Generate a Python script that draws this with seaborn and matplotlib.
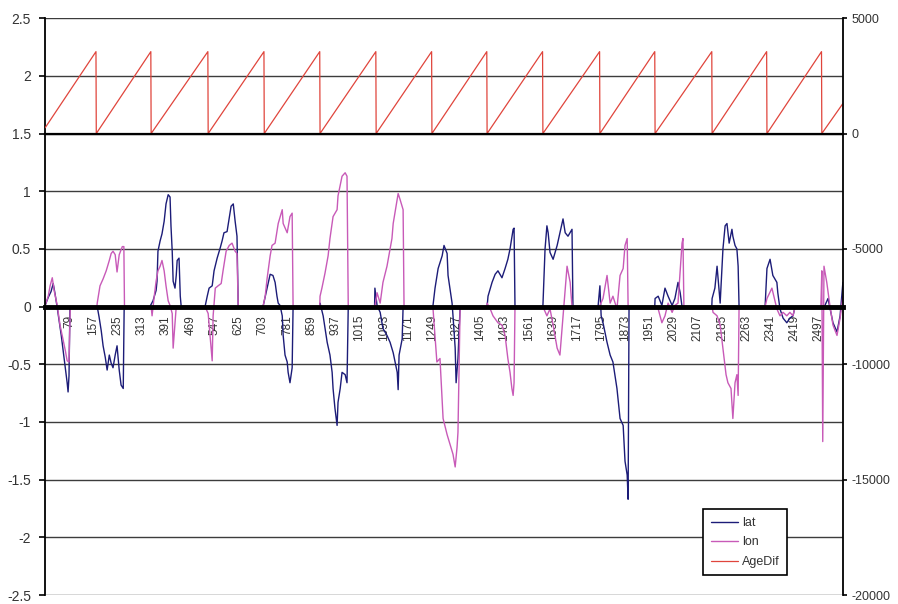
import matplotlib
matplotlib.use("Agg")
import matplotlib.pyplot as plt
import seaborn as sns

# --- data (index = sample number) ---
lat_idx = [1, 11, 20, 27, 33, 40, 46, 53, 59, 66, 69, 72, 75, 78, 81,
           169, 175, 182, 188, 195, 201, 208, 214, 220, 227, 233, 240, 246, 253, 256,
           339, 349, 359, 362, 365, 372, 378, 385, 391, 398, 404, 407, 411, 414, 420, 424, 427, 433, 437, 440,
           517, 524, 530, 540, 546, 556, 566, 572, 578, 588, 595, 601, 608, 614, 620, 624,
           704, 717, 727, 736, 743, 749, 753, 759, 766, 769, 775, 782, 785, 791, 798, 801,
           887, 888, 898, 911, 920, 927, 930, 936, 943, 946, 953, 959, 969, 975, 979,
           1064, 1065, 1072, 1082, 1091, 1104, 1114, 1124, 1130, 1137, 1140, 1143, 1153, 1156,
           1252, 1259, 1269, 1282, 1288, 1298, 1301, 1314, 1317, 1324, 1327, 1333, 1340,
           1427, 1430, 1443, 1453, 1462, 1475, 1485, 1494, 1501, 1511, 1514, 1517,
           1607, 1614, 1620, 1624, 1630, 1640, 1653, 1662, 1672, 1679, 1688, 1701, 1704,
           1785, 1791, 1795, 1801, 1814, 1824, 1833, 1846, 1856, 1866, 1872, 1879, 1882, 1885,
           1968, 1969, 1979, 1991, 2001, 2011, 2024, 2033, 2043, 2050, 2056,
           2152, 2153, 2162, 2169, 2179, 2188, 2195, 2201, 2208, 2217, 2220, 2227, 2233, 2237, 2240,
           2324, 2330, 2340, 2349, 2362, 2365, 2372, 2382, 2394, 2404, 2414, 2421,
           2504, 2517, 2527, 2543, 2556, 2566, 2575]
lat_val = [0.01, 0.08, 0.13, 0.2, 0.11, -0.01, -0.12, -0.25, -0.38, -0.53, -0.6, -0.66, -0.74, -0.6, 0.0,
           0.0, -0.09, -0.21, -0.34, -0.44, -0.55, -0.42, -0.49, -0.53, -0.42, -0.34, -0.55, -0.68, -0.71, 0.0,
           0.0, 0.05, 0.14, 0.22, 0.48, 0.57, 0.63, 0.74, 0.89, 0.97, 0.95, 0.7, 0.48, 0.22, 0.16, 0.27, 0.4, 0.42, 0.09, 0.0,
           0.0, 0.09, 0.16, 0.18, 0.31, 0.42, 0.51, 0.57, 0.64, 0.65, 0.77, 0.87, 0.89, 0.74, 0.61, 0.0,
           0.0, 0.16, 0.28, 0.27, 0.21, 0.09, 0.03, 0.01, -0.08, -0.25, -0.42, -0.48, -0.57, -0.66, -0.53, 0.0,
           0.0, 0.03, -0.08, -0.31, -0.42, -0.57, -0.71, -0.88, -1.03, -0.83, -0.71, -0.57, -0.59, -0.66, 0.0,
           0.0, 0.16, 0.01, -0.05, -0.19, -0.25, -0.31, -0.4, -0.48, -0.57, -0.72, -0.42, -0.28, 0.0,
           0.0, 0.16, 0.33, 0.44, 0.53, 0.46, 0.27, 0.03, -0.08, -0.36, -0.66, -0.45, 0.0,
           0.0, 0.09, 0.21, 0.28, 0.31, 0.25, 0.33, 0.41, 0.5, 0.67, 0.68, 0.0,
           0.0, 0.5, 0.7, 0.64, 0.47, 0.41, 0.53, 0.64, 0.76, 0.64, 0.61, 0.67, 0.0,
           0.0, 0.18, -0.08, -0.14, -0.31, -0.42, -0.48, -0.71, -0.97, -1.03, -1.34, -1.46, -1.67, 0.0,
           0.0, 0.07, 0.09, 0.01, 0.16, 0.09, 0.01, 0.07, 0.21, 0.12, 0.0,
           0.0, 0.07, 0.16, 0.35, 0.03, 0.5, 0.7, 0.72, 0.55, 0.67, 0.61, 0.53, 0.5, 0.35, 0.0,
           0.0, 0.33, 0.41, 0.27, 0.21, 0.12, -0.02, -0.1, -0.14, -0.1, -0.08, 0.0,
           0.0, 0.01, 0.07, -0.14, -0.22, -0.08, 0.21]

lon_idx = [1, 11, 17, 24, 30, 40, 49, 59, 66, 72, 78, 82,
           168, 169, 178, 188, 198, 208, 214, 220, 227, 233, 240, 250, 255, 257,
           343, 346, 353, 359, 365, 372, 378, 385, 391, 398, 404, 411, 414, 417, 424,
           517, 527, 533, 540, 543, 550, 559, 569, 575, 585, 595, 604, 614, 620, 624,
           704, 711, 717, 727, 733, 743, 753, 766, 769, 782, 791, 798, 801,
           887, 888, 894, 904, 914, 920, 930, 943, 946, 959, 969, 975, 979,
           1065, 1072, 1082, 1091, 1104, 1114, 1120, 1124, 1137, 1140, 1146, 1156, 1159,
           1252, 1265, 1275, 1285, 1298, 1308, 1317, 1324, 1330, 1333, 1340,
           1426, 1427, 1437, 1446, 1462, 1475, 1485, 1494, 1501, 1507, 1511, 1514, 1517,
           1607, 1620, 1630, 1640, 1653, 1662, 1672, 1685, 1695, 1701,
           1790, 1791, 1801, 1814, 1824, 1833, 1846, 1856, 1866, 1872, 1879, 1882,
           1969, 1979, 1991, 2001, 2011, 2024, 2033, 2043, 2056, 2059, 2062,
           2153, 2156, 2169, 2179, 2188, 2198, 2204, 2214, 2220, 2227, 2233, 2237, 2240,
           2324, 2330, 2346, 2362, 2372, 2382, 2394, 2404, 2414, 2421,
           2504, 2507, 2510, 2514, 2523, 2533, 2543, 2556, 2566, 2575]
lon_val = [0.01, 0.09, 0.18, 0.25, 0.14, 0.01, -0.16, -0.29, -0.38, -0.47, -0.48, 0.0,
           0.0, 0.03, 0.18, 0.24, 0.31, 0.4, 0.46, 0.48, 0.45, 0.3, 0.45, 0.52, 0.52, 0.0,
           0.0, -0.08, 0.09, 0.22, 0.31, 0.35, 0.4, 0.31, 0.18, 0.05, 0.01, -0.06, -0.36, -0.25, 0.0,
           0.0, -0.06, -0.25, -0.47, -0.08, 0.16, 0.18, 0.2, 0.31, 0.48, 0.53, 0.55, 0.48, 0.46, 0.0,
           0.0, 0.09, 0.24, 0.44, 0.53, 0.55, 0.72, 0.84, 0.72, 0.64, 0.78, 0.81, 0.0,
           0.0, 0.09, 0.16, 0.29, 0.44, 0.59, 0.78, 0.84, 0.96, 1.13, 1.16, 1.13, 0.0,
           0.0, 0.12, 0.03, 0.21, 0.35, 0.5, 0.59, 0.72, 0.93, 0.98, 0.93, 0.84, 0.0,
           0.0, -0.48, -0.45, -0.97, -1.11, -1.2, -1.28, -1.39, -1.22, -1.09, 0.0,
           0.0, 0.03, -0.02, -0.08, -0.14, -0.16, -0.25, -0.45, -0.57, -0.71, -0.77, -0.66, 0.0,
           0.0, -0.08, -0.02, -0.16, -0.36, -0.42, -0.08, 0.35, 0.21, 0.0,
           0.0, 0.01, 0.07, 0.27, 0.03, 0.09, -0.02, 0.27, 0.33, 0.53, 0.59, 0.0,
           0.0, -0.02, -0.14, -0.08, 0.03, -0.05, 0.01, 0.03, 0.55, 0.59, 0.0,
           0.0, -0.05, -0.08, -0.16, -0.36, -0.59, -0.66, -0.71, -0.97, -0.66, -0.59, -0.77, 0.0,
           0.0, 0.07, 0.16, -0.02, -0.08, -0.05, -0.08, -0.05, -0.08, 0.0,
           0.0, 0.31, -1.17, 0.35, 0.21, 0.01, -0.16, -0.25, -0.1, 0.09]

# AgeDif sawtooth: sample where it drops back to 0, peak before each drop
age_resets = [166, 343, 527, 708, 888, 1069, 1249, 1427, 1607, 1791, 1969, 2153, 2330, 2507]
age_peak = 3550
age_first = 250
age_last = 1300
n_samples = 2575

x_ticks = [79, 157, 235, 313, 391, 469, 547, 625, 703, 781, 859, 937, 1015, 1093, 1171, 1249,
           1327, 1405, 1483, 1561, 1639, 1717, 1795, 1873, 1951, 2029, 2107, 2185, 2263, 2341, 2419, 2497]
y_ticks = [-2.5, -2, -1.5, -1, -0.5, 0, 0.5, 1, 1.5, 2, 2.5]
y_labels = ['-2.5', '-2', '-1.5', '-1', '-0.5', '0', '0.5', '1', '1.5', '2', '2.5']
y2_ticks = [-20000, -15000, -10000, -5000, 0, 5000]
y2_labels = ['-20000', '-15000', '-10000', '-5000', '0', '5000']

age_idx = [1]
age_val = [age_first]
for r in age_resets:
    age_idx += [r - 1, r]
    age_val += [age_peak, 0]
age_idx.append(n_samples)
age_val.append(age_last)

sns.set_style('white')
plt.rcParams['font.family'] = ['Liberation Sans', 'DejaVu Sans']
plt.rcParams['axes.unicode_minus'] = False

fig = plt.figure(figsize=(8.98, 6.04), dpi=100)
ax = fig.add_axes([0.0501, 0.0149, 0.8887, 0.955])
ax2 = ax.twinx()

lat_c, lon_c, age_c = '#1c1c78', '#c85ab8', '#e0453c'
sns.lineplot(x=lat_idx, y=lat_val, ax=ax, color=lat_c, lw=1.0, estimator=None, legend=False)
sns.lineplot(x=lon_idx, y=lon_val, ax=ax, color=lon_c, lw=1.0, estimator=None, legend=False)
sns.lineplot(x=age_idx, y=age_val, ax=ax2, color=age_c, lw=0.9, estimator=None, legend=False)

ax.set_xlim(0.5, n_samples + 0.5)
ax.set_ylim(-2.5, 2.5)
ax2.set_ylim(-20000, 5000)

ax.set_yticks(y_ticks)
ax.set_yticklabels(y_labels)
ax2.set_yticks(y2_ticks)
ax2.set_yticklabels(y2_labels)
ax.set_xticks(x_ticks)
ax.set_xticklabels([str(t) for t in x_ticks])
ax.set_xlabel('')
ax.set_ylabel('')
ax2.set_ylabel('')

ax.yaxis.grid(True, color='#3c3c3c', lw=1.0)
ax.xaxis.grid(False)

for s in ['top', 'right']:
    ax.spines[s].set_visible(False)
ax.spines['left'].set_color('black')
ax.spines['left'].set_linewidth(1.3)
ax.spines['bottom'].set_position(('data', 0))
ax.spines['bottom'].set_color('black')
ax.spines['bottom'].set_linewidth(3.5)

for s in ['top', 'left']:
    ax2.spines[s].set_visible(False)
ax2.spines['right'].set_color('black')
ax2.spines['right'].set_linewidth(1.3)
ax2.spines['bottom'].set_position(('data', 0))
ax2.spines['bottom'].set_color('black')
ax2.spines['bottom'].set_linewidth(1.6)

ax.tick_params(axis='x', length=0, pad=6, labelsize=8.5, labelrotation=90, labelcolor='#333333')
ax.tick_params(axis='y', direction='out', length=4, width=1.2, color='black', pad=6,
               labelsize=10, labelcolor='#333333')
ax2.tick_params(axis='y', direction='out', length=3, width=1.2, color='black', pad=3,
                labelsize=9, labelcolor='#333333')

handles = [ax.lines[0], ax.lines[1], ax2.lines[0]]
leg = ax.legend(handles, ['lat', 'lon', 'AgeDif'], loc='upper left',
                bbox_to_anchor=(0.776, 0.167), bbox_transform=fig.transFigure,
                frameon=True, fancybox=False, framealpha=1, edgecolor='black',
                fontsize=9, handlelength=2.2, handletextpad=0.3, borderpad=0.6,
                labelspacing=0.6)
leg.get_frame().set_linewidth(1.2)
for t in leg.get_texts():
    t.set_color('#333333')

fig.savefig('out.png', dpi=100)
